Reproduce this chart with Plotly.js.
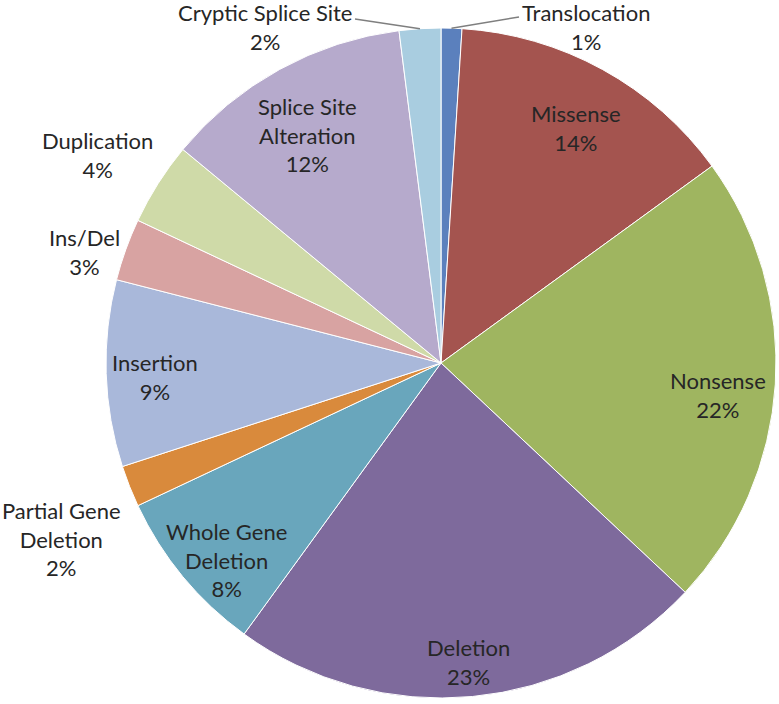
<!DOCTYPE html>
<html><head><meta charset="utf-8">
<script src="https://cdn.plot.ly/plotly-3.0.1.min.js"></script>
<style>html,body{margin:0;padding:0;background:#fff}</style>
</head><body>
<div id="chart" style="width:779px;height:704px"></div>
<script>
// ---- data ----
const categories = ["Translocation","Missense","Nonsense","Deletion","Whole Gene Deletion","Partial Gene Deletion","Insertion","Ins/Del","Duplication","Splice Site Alteration","Cryptic Splice Site"];
const percentages = [1,14,22,23,8,2,9,3,4,12,2];
const labelLines = [["Translocation"],["Missense"],["Nonsense"],["Deletion"],["Whole Gene","Deletion"],["Partial Gene","Deletion"],["Insertion"],["Ins/Del"],["Duplication"],["Splice Site","Alteration"],["Cryptic Splice Site"]];

// ---- style ----
const colors = ["#5b80bd","#a4544f","#9fb560","#7e6a9c","#69a6bc","#d98a3c","#a9b8da","#d8a3a2","#cfdaa8","#b6aacc","#a9cde0"];
const W = 779, H = 704;
const CX = 441, CY = 363, R = 335;
// label placement: radius factor, angle offset (deg)
const labelRF  = [1.0, 0.81, 0.833, 0.896, 0.869, 1.248, 0.855, 1.116, 1.2, 0.79, 1.0];
const labelDA  = [0, 1.0, 3.0, 0.2, -3.0, -3.3, -1.0, -2.5, -1.2, -1.6, 0];
// outside labels with leader lines: text centre and line start
const leader = {0:{tx:586, ty:27, lx:519, ly:17}, 10:{tx:265, ty:27, lx:355, ly:19}};

const total = percentages.reduce((a,b)=>a+b,0);
const annotations = [], shapes = [];
let cum = 0;
percentages.forEach((v,i)=>{
  const midDeg = (cum + v/2)/total*360;
  cum += v;
  const txt = labelLines[i].join("<br>") + "<br>" + v + "%";
  let px, py;
  if (leader[i]) {
    const th = midDeg*Math.PI/180;
    const ex = CX + R*Math.sin(th), ey = CY - R*Math.cos(th);
    const L = leader[i];
    shapes.push({type:"line", xref:"paper", yref:"paper",
      x0:L.lx/W, y0:1-L.ly/H, x1:ex/W, y1:1-ey/H, line:{color:"#7f7f7f", width:1.5}});
    px = L.tx; py = L.ty;
  } else {
    const th = (midDeg + labelDA[i])*Math.PI/180;
    px = CX + labelRF[i]*R*Math.sin(th);
    py = CY - labelRF[i]*R*Math.cos(th);
  }
  annotations.push({text: txt, x: px/W, y: 1-py/H, xref:"paper", yref:"paper",
    showarrow:false, xanchor:"center", yanchor:"middle", align:"center",
    font:{family:"Lato, 'Open Sans', sans-serif", size:22, color:"#262626"}});
});

const trace = {
  type:"pie", values: percentages, labels: categories,
  sort:false, direction:"clockwise", rotation:0,
  marker:{colors: colors, line:{color:"#ffffff", width:1}},
  textinfo:"none", hoverinfo:"label+percent",
  domain:{x:[(CX-R)/W,(CX+R)/W], y:[1-(CY+R)/H, 1-(CY-R)/H]}
};
Plotly.newPlot("chart",[trace],{
  width:W, height:H, margin:{l:0,r:0,t:0,b:0}, showlegend:false,
  paper_bgcolor:"#ffffff", annotations, shapes
},{displayModeBar:false, staticPlot:true});
</script>
</body></html>
